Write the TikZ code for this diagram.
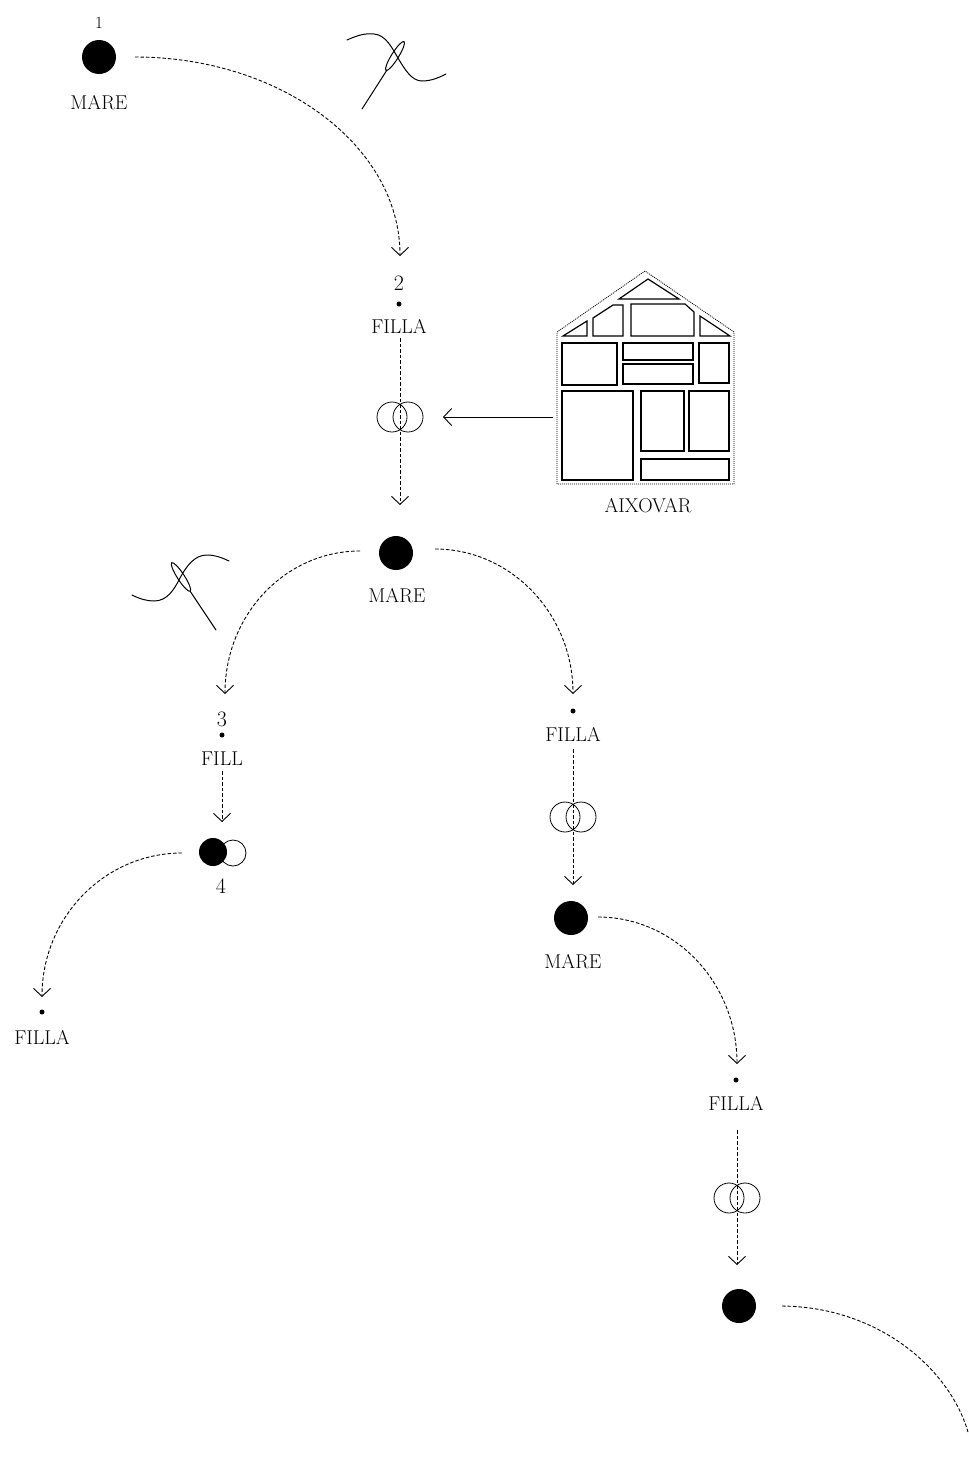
\documentclass[tikz,border=0pt]{standalone}
\usetikzlibrary{arrows.meta}
\begin{document}
\begin{tikzpicture}[x=1pt,y=-1pt,
  lbl/.style={font=\fontsize{20}{24}\selectfont, anchor=base, inner sep=0pt},
  digit/.style={font=\fontsize{22}{26}\selectfont, anchor=base, inner sep=0pt},
  smallnum/.style={font=\fontsize{17}{20}\selectfont, anchor=base, inner sep=0pt},
  mom/.style={circle, fill=black, minimum size=34pt, inner sep=0pt},
  pt/.style={circle, fill=black, minimum size=5pt, inner sep=0pt},
  dsh/.style={line width=0.9pt, dash pattern=on 3.5pt off 2pt},
  tip/.style={-{Straight Barb[length=8pt,width=17pt,line width=0.9pt]}},
  ring/.style={circle, draw, line width=0.8pt, minimum size=30pt, inner sep=0pt},
  thr/.style={line width=1pt, line cap=round},
  room/.style={draw, line width=1.2pt, line join=miter},
  wall/.style={draw, line width=0.8pt, dash pattern=on 1pt off 1pt}
]
\useasboundingbox (0,0) rectangle (969,1467);

% ---------- generation 1 ----------
\node[mom] (m1) at (99,57) {};
\node[smallnum] (n1) at (99,28) {1};
\node[lbl] (t1) at (99,109) {MARE};

% needle 1
\draw[thr] (347,40) .. controls (358,35) and (366,33) .. (374,34)
  .. controls (386,35) and (392,48) .. (398,58)
  .. controls (405,70) and (412,81) .. (422,81)
  .. controls (432,81) and (440,77) .. (446,74);
\draw[line width=1pt, line cap=round] (362,109) -- (387,70);
\draw[line width=1pt] (395,56) ellipse [x radius=17, y radius=3.5, rotate=58];

\coordinate (a1s) at (135,57);
\coordinate (a1e) at (400,256);
\draw[dsh,tip] (a1s) .. controls +(146,0) and +(0,-110) .. (a1e);

% ---------- generation 2 ----------
\node[digit] (n2) at (399,290) {2};
\node[pt] (d2) at (399,304) {};
\node[lbl] (f2) at (399,333) {FILLA};

\node[mom] (m2) at (396,553) {};
\coordinate (v2s) at (400,338);
\coordinate (v2e) at (400,505);
\draw[dsh,tip] (v2s) -- (v2e);
\node[ring] (r2a) at (392,417) {};
\node[ring] (r2b) at (408,417) {};

% house (aixovar)
\draw[wall] (557,484) -- (557,332) -- (645,271) -- (734,332) -- (734,484) -- cycle;
\draw[room] (619,299) -- (679,299) -- (648,279) -- cycle;
\draw[room] (563,336) -- (587,336) -- (587,321) -- cycle;
\draw[room] (593,336) -- (623,336) -- (623,305) -- (613,305) -- (593,318) -- cycle;
\draw[room] (631,336) -- (694,336) -- (694,312) -- (685,304) -- (631,304) -- cycle;
\draw[room] (700,336) -- (730,336) -- (700,316) -- cycle;
\draw[room] (562,343) rectangle (617,385);
\draw[room] (623,343) rectangle (693,360);
\draw[room] (623,364) rectangle (693,384);
\draw[room] (699,343) rectangle (729,383);
\draw[room] (562,391) rectangle (633,480);
\draw[room] (641,391) rectangle (684,451);
\draw[room] (689,391) rectangle (729,451);
\draw[room] (641,459) rectangle (729,480);
\node[lbl] (ax) at (648,512) {AIXOVAR};
\coordinate (hs) at (553,417);
\coordinate (he) at (443,417);
\draw[line width=0.9pt, tip] (hs) -- (he);

\node[lbl] (t2) at (397,602) {MARE};

% needle 2
\draw[thr] (132,595) .. controls (140,599) and (147,601) .. (154,601)
  .. controls (167,601) and (174,590) .. (180,578)
  .. controls (187,565) and (195,555) .. (207,555)
  .. controls (215,555) and (223,558) .. (229,561);
\draw[line width=1pt, line cap=round] (216,630) -- (190,591);
\draw[line width=1pt] (181,577) ellipse [x radius=17, y radius=3.5, rotate=123];

\coordinate (a2ls) at (360,551);
\coordinate (a2le) at (225,694);
\draw[dsh,tip] (a2ls) .. controls +(-75,0) and +(0,-79) .. (a2le);
\coordinate (a2rs) at (435,549);
\coordinate (a2re) at (573,694);
\draw[dsh,tip] (a2rs) .. controls +(76,0) and +(0,-80) .. (a2re);

% ---------- left branch ----------
\node[digit] (n3) at (222,726) {3};
\node[pt] (d3) at (222,735) {};
\node[lbl] (f3) at (222,765) {FILL};
\coordinate (v3s) at (222,771);
\coordinate (v3e) at (222,822);
\draw[dsh,tip] (v3s) -- (v3e);

\node[circle, draw, line width=0.8pt, minimum size=26pt, inner sep=0pt] (m4b) at (233,853) {};
\node[circle, fill=black, minimum size=28pt, inner sep=0pt] (m4) at (213,852) {};
\node[digit] (n4) at (221,893) {4};

\coordinate (a4s) at (182,853);
\coordinate (a4e) at (42,997);
\draw[dsh,tip] (a4s) .. controls +(-77,0) and +(0,-80) .. (a4e);
\node[pt] (d5) at (42,1012) {};
\node[lbl] (f5) at (42,1044) {FILLA};

% ---------- right branch ----------
\node[pt] (d6) at (573,711) {};
\node[lbl] (f6) at (573,741) {FILLA};
\coordinate (v6s) at (573,749);
\coordinate (v6e) at (573,885);
\draw[dsh,tip] (v6s) -- (v6e);
\node[ring] (r6a) at (565,817) {};
\node[ring] (r6b) at (581,817) {};

\node[mom] (m6) at (571,918) {};
\node[lbl] (t6) at (573,968) {MARE};

\coordinate (a6s) at (598,917);
\coordinate (a6e) at (737,1064);
\draw[dsh,tip] (a6s) .. controls +(77,0) and +(0,-81) .. (a6e);

\node[pt] (d7) at (736,1080) {};
\node[lbl] (f7) at (736,1110) {FILLA};
\coordinate (v7s) at (737,1130);
\coordinate (v7e) at (737,1265);
\draw[dsh,tip] (v7s) -- (v7e);
\node[ring] (r7a) at (729,1198) {};
\node[ring] (r7b) at (745,1198) {};

\node[mom] (m7) at (739,1306) {};
\coordinate (a7s) at (782,1306);
\coordinate (a7e) at (968,1432);
\draw[dsh] (a7s) .. controls (880,1307) and (950,1370) .. (a7e);

\end{tikzpicture}
\end{document}
